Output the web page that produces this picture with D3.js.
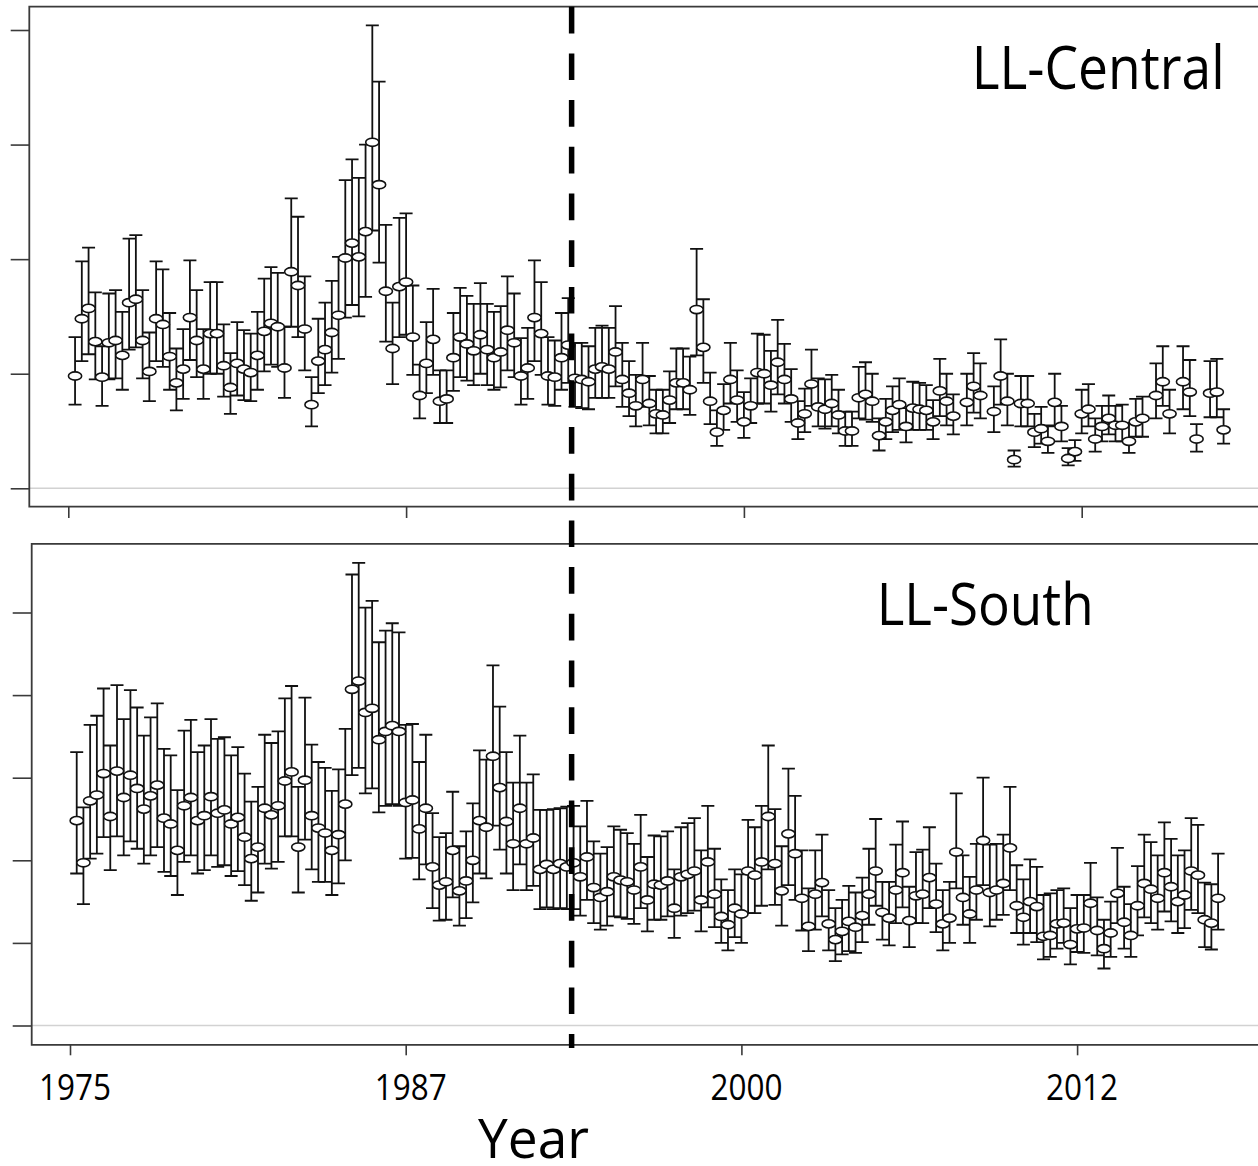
<!DOCTYPE html>
<html><head><meta charset="utf-8">
<script src="https://cdn.jsdelivr.net/npm/d3@7"></script>
<style>body{margin:0;background:#fff}svg{display:block}</style>
</head><body>
<svg id="c" width="1258" height="1166"></svg>
<script>
// quarter index (1 = 1975 Q1 ... 171)
const quarters = d3.range(1, 172);
const quarterTicks = [0, 50, 100, 150];
const yearLabels = ["1975", "1987", "2000", "2012"];
const breakQuarter = 74.5;
const panelTitles = ["LL-Central", "LL-South"];
const centralTicks = [0, 10, 20, 30, 40];
const southTicks = [0, 10, 20, 30, 40, 50];

const centralMean = [9.8,14.8,15.7,12.8,9.7,12.7,12.9,11.6,16.2,16.5,
12.9,10.2,14.8,14.3,11.5,9.2,10.4,14.9,12.9,10.4,
13.5,13.5,10.7,8.8,10.9,10.4,10.1,11.6,13.7,14.4,
14.1,10.5,18.9,17.7,13.9,7.3,11.1,12.1,13.6,15.1,
20.1,21.4,20.2,22.4,30.2,26.5,17.2,12.2,17.6,18.0,
13.2,8.1,10.9,13.0,7.6,7.8,11.4,13.2,12.6,12.0,
13.4,12.1,11.4,11.9,13.8,12.7,9.8,10.5,14.9,13.5,
9.8,9.7,11.4,12.5,9.6,9.5,9.3,10.4,10.6,10.4,
11.9,9.5,8.3,7.2,9.5,7.4,6.5,6.4,7.7,9.2,
9.2,8.6,15.6,12.3,7.6,4.9,6.8,9.5,7.7,5.8,
7.2,10.1,10.0,9.0,11.0,9.5,7.8,5.7,6.5,9.1,
7.1,6.9,7.4,6.4,5.0,5.0,7.9,8.2,7.6,4.6,
5.8,6.8,7.3,5.4,7.0,6.9,6.8,5.8,8.5,7.6,
6.3,null,7.5,8.9,8.1,null,6.7,9.8,7.6,2.5,
7.4,7.4,4.9,5.2,4.1,7.5,5.4,2.6,3.2,6.5,
6.9,4.3,5.4,6.1,5.5,5.5,4.1,5.8,6.1,null,
8.1,9.3,6.5,null,9.3,8.4,4.3,null,8.3,8.4,
5.1];
const centralUpper = [13.2,19.8,21.0,17.1,12.4,17.0,17.3,15.4,21.8,22.1,
17.3,13.6,19.8,19.1,15.3,12.2,13.9,19.9,17.3,13.9,
18.0,18.0,14.3,11.8,14.5,13.8,13.5,15.4,18.3,19.3,
18.8,14.1,25.3,23.7,18.5,9.7,14.8,16.2,18.1,20.2,
26.9,28.7,27.1,30.0,40.4,35.5,23.0,16.2,23.6,24.0,
17.7,10.8,14.5,17.4,10.3,10.3,15.3,17.5,16.8,16.1,
17.9,16.1,15.4,15.9,18.5,17.0,13.1,14.0,19.9,18.0,
13.2,12.9,15.3,16.6,12.7,12.7,12.4,14.0,14.2,14.0,
15.9,12.7,11.1,9.9,12.7,9.8,8.6,8.6,10.2,12.2,
12.2,11.5,20.9,16.5,10.1,6.8,9.1,12.7,10.3,8.4,
9.6,13.5,13.4,12.0,14.7,12.6,10.4,7.6,8.7,12.1,
9.6,9.5,9.9,8.6,6.7,6.7,10.6,11.0,10.0,6.1,
7.8,8.9,9.6,7.0,9.3,9.2,9.0,7.7,11.3,10.0,
8.2,null,10.0,11.8,10.9,null,8.9,13.0,10.0,3.3,
9.8,9.8,6.5,7.1,5.5,10.0,7.2,3.5,4.2,8.6,
9.1,6.1,7.2,8.1,7.2,7.3,5.7,7.8,8.0,null,
10.9,12.4,8.6,null,12.4,11.2,5.6,null,11.1,11.3,
6.9];
const centralLower = [7.3,11.1,11.7,9.5,7.2,9.5,9.6,8.6,12.1,12.3,
9.6,7.6,11.1,10.6,8.6,6.8,7.8,11.2,9.7,7.8,
10.0,10.0,8.0,6.5,8.1,7.7,7.6,8.6,10.2,10.8,
10.6,7.9,14.1,13.2,10.3,5.4,8.3,9.0,10.1,11.3,
14.9,16.0,15.0,16.7,22.5,19.7,12.8,9.1,13.2,13.4,
9.9,6.1,8.3,9.9,5.7,5.7,8.5,9.7,9.4,9.0,
10.0,9.0,8.6,8.8,10.3,9.7,7.3,7.8,11.1,9.9,
7.3,7.2,8.6,9.2,7.1,7.0,6.9,7.9,7.9,7.9,
8.9,7.1,6.3,5.4,7.1,5.5,4.8,4.8,5.7,6.9,
6.9,6.4,11.6,9.2,5.6,3.7,5.1,7.4,5.8,4.4,
5.7,7.4,7.4,6.7,8.2,7.4,5.8,4.3,4.9,7.2,
5.4,5.2,5.4,4.8,3.7,3.7,6.1,6.0,5.8,3.3,
4.3,4.9,5.1,4.0,5.1,5.1,5.1,4.3,6.3,5.5,
4.7,null,5.5,6.6,6.1,null,4.9,7.3,5.5,1.9,
5.4,5.4,3.6,3.9,3.1,5.4,4.1,2.0,2.4,4.8,
5.4,3.2,4.1,4.7,4.1,4.1,3.1,4.5,4.5,null,
6.1,7.2,4.8,null,6.9,6.3,3.2,null,6.2,6.2,
3.9];

const southMean = [24.8,19.7,27.2,27.9,30.5,25.3,30.8,27.6,30.3,28.7,
26.2,27.8,29.1,25.1,24.4,21.2,26.6,27.6,24.8,25.4,
27.7,25.7,26.1,24.4,25.2,22.8,20.2,21.6,26.3,25.5,
26.6,29.6,30.7,21.6,29.7,25.4,23.9,23.3,21.2,23.1,
26.8,40.7,41.7,37.9,38.4,34.6,35.6,36.3,35.6,27.0,
27.3,23.8,26.3,19.2,17.0,17.4,21.2,16.3,17.5,20.0,
24.8,24.0,32.6,28.8,24.7,22.0,26.3,22.0,22.7,18.9,
19.5,18.9,19.6,19.2,19.7,18.0,20.4,16.7,15.5,16.2,
18.0,17.6,17.4,16.4,19.2,15.2,17.1,17.0,17.5,14.2,
18.0,18.3,18.7,15.2,19.8,15.9,13.2,12.2,14.2,13.5,
18.7,18.2,19.8,25.3,19.6,16.3,23.2,20.8,15.4,12.0,
15.9,17.3,12.3,10.4,11.4,12.6,11.9,13.3,15.9,18.7,
13.7,13.0,16.4,18.5,12.7,15.7,15.9,17.9,14.7,12.3,
13.0,21.0,15.5,13.5,16.4,22.4,16.1,16.4,17.2,21.5,
14.5,13.1,15.0,14.4,10.8,10.9,12.3,12.4,9.8,11.7,
11.8,14.8,11.5,9.3,11.2,16.0,12.5,10.9,14.5,17.2,
16.5,15.4,18.5,16.8,15.0,15.8,18.7,18.2,12.8,12.4,
15.4];
const southUpper = [33.1,26.4,36.4,37.5,40.8,33.9,41.2,37.1,40.6,38.5,
35.1,37.3,39.0,33.5,32.7,28.5,35.7,37.0,33.1,33.9,
37.1,34.7,34.9,32.7,33.7,30.5,27.1,28.9,35.2,34.2,
35.6,39.6,41.1,28.9,39.7,34.0,31.9,31.2,28.4,31.0,
35.9,54.6,56.0,50.6,51.4,46.4,47.8,48.7,47.6,36.4,
36.5,31.9,35.2,25.7,22.8,23.3,28.3,21.7,23.5,26.9,
33.3,32.2,43.6,38.6,33.1,29.4,35.1,29.4,30.4,26.1,
26.1,26.2,26.3,26.5,26.6,24.1,27.2,22.3,20.8,21.6,
24.1,23.7,23.3,22.0,25.5,20.4,23.0,22.9,23.5,18.9,
24.0,24.5,25.1,21.2,26.6,21.4,17.7,16.4,18.9,18.3,
24.9,24.0,26.6,33.9,26.2,21.7,31.1,27.8,21.2,16.6,
21.2,23.1,16.4,14.2,15.2,16.9,16.1,17.9,21.4,25.0,
17.4,17.4,21.9,24.7,16.8,21.0,21.3,24.0,19.6,16.4,
17.4,28.1,20.6,18.0,22.0,30.0,21.9,22.0,23.1,28.9,
19.4,17.7,20.1,19.2,15.8,16.0,16.4,16.6,14.2,15.8,
15.8,19.7,15.5,12.8,15.0,21.5,16.8,14.7,19.3,23.1,
22.2,20.6,24.6,22.6,20.6,21.2,25.1,24.3,17.3,17.1,
20.8];
const southLower = [18.4,14.7,20.2,20.8,22.8,18.8,22.9,20.6,22.3,21.4,
19.6,20.6,21.6,18.6,18.1,15.8,19.8,20.6,18.4,18.8,
20.6,19.2,19.4,18.1,18.7,17.0,15.1,16.1,19.6,19.0,
19.8,22.9,22.9,16.1,22.5,18.9,17.4,17.4,15.8,17.2,
20.0,30.3,31.2,28.1,28.7,25.8,26.6,26.8,26.6,20.2,
20.3,17.7,19.5,14.2,12.7,12.8,15.5,12.1,13.0,14.9,
18.4,17.8,24.2,21.3,18.4,16.4,19.5,16.4,16.9,14.1,
14.3,14.1,14.2,14.1,14.1,13.3,15.2,12.4,11.6,12.1,
13.2,13.1,12.9,12.3,14.2,11.4,12.8,12.8,13.2,10.6,
13.3,13.6,13.9,11.4,14.3,11.9,10.0,9.1,10.7,10.0,
13.6,13.6,14.5,18.9,14.6,12.1,17.0,15.2,11.5,9.0,
11.6,13.2,9.1,7.8,8.6,9.0,8.8,10.1,12.2,14.5,
10.4,9.7,12.4,14.3,9.5,12.4,12.4,14.2,11.3,9.1,
10.0,16.6,12.2,10.0,12.8,17.0,12.0,12.8,13.4,16.4,
11.2,9.8,11.2,10.1,8.0,8.3,9.3,10.0,7.4,8.9,
8.8,11.6,8.5,6.9,8.3,12.4,9.3,8.3,10.9,13.1,
12.4,11.6,13.8,12.6,11.2,11.8,14.0,13.6,9.5,9.2,
11.6];

const svg = d3.select("#c");
const FONT = "'Open Sans', 'DejaVu Sans', sans-serif";
const AX = "#3a3a3a";

function drawPanel(cfg) {
  const g = svg.append("g");
  const x = d3.scaleLinear().domain([0, 150]).range(cfg.xRange);
  const y = d3.scaleLinear().domain(cfg.yDomain).range(cfg.yRange);

  // zero reference line
  g.append("line")
    .attr("x1", cfg.left).attr("x2", 1258)
    .attr("y1", y(0)).attr("y2", y(0))
    .attr("stroke", "#d2d2d2").attr("stroke-width", 1.6);

  // frame (open on the right, cut by the page edge)
  g.append("path")
    .attr("d", `M1300,${cfg.top}H${cfg.left}V${cfg.bottom}H1300`)
    .attr("fill", "none").attr("stroke", AX).attr("stroke-width", 1.8);

  // y axis ticks (no labels)
  const ya = g.append("g").attr("transform", `translate(${cfg.left},0)`)
    .call(d3.axisLeft(y).tickValues(cfg.yTicks).tickSize(cfg.yTickLen).tickFormat(""));
  ya.select(".domain").remove();
  ya.selectAll("line").attr("stroke", AX).attr("stroke-width", 1.6);

  // x axis ticks
  const xa = g.append("g").attr("transform", `translate(0,${cfg.bottom})`)
    .call(d3.axisBottom(x).tickValues(quarterTicks).tickSize(cfg.xTickLen).tickFormat(""));
  xa.select(".domain").remove();
  xa.selectAll("line").attr("stroke", AX).attr("stroke-width", 1.6);

  const data = quarters.map((q, i) => ({q, m: cfg.mean[i], u: cfg.upper[i], l: cfg.lower[i]}))
    .filter(d => d.m != null);
  const cap = 6.5;

  g.append("g").selectAll("path").data(data).join("path")
    .attr("d", d => {
      const cx = x(d.q), yu = y(d.u), yl = y(d.l);
      return `M${cx - cap},${yu}H${cx + cap}M${cx},${yu}V${yl}M${cx - cap},${yl}H${cx + cap}`;
    })
    .attr("fill", "none").attr("stroke", "#111").attr("stroke-width", 1.8);

  g.append("g").selectAll("ellipse").data(data).join("ellipse")
    .attr("cx", d => x(d.q)).attr("cy", d => y(d.m))
    .attr("rx", 6.6).attr("ry", 4.1)
    .attr("fill", "#fff").attr("stroke", "#111").attr("stroke-width", 1.6);

  g.append("text")
    .attr("x", cfg.titleX).attr("y", cfg.titleY)
    .attr("font-family", FONT).attr("font-size", cfg.titleSize)
    .attr("textLength", cfg.titleLen).attr("lengthAdjust", "spacingAndGlyphs")
    .attr("fill", "#000").text(cfg.title);

  return {x, y, g};
}

const topPanel = drawPanel({
  left: 29.3, top: 6.7, bottom: 506.7,
  xRange: [68.3, 1081.7], yDomain: [0, 40], yRange: [488.3, 30],
  yTicks: centralTicks, yTickLen: 18.6, xTickLen: 11.3,
  mean: centralMean, upper: centralUpper, lower: centralLower,
  title: panelTitles[0], titleX: 971.7, titleY: 89.3, titleSize: 60, titleLen: 253
});

const bottomPanel = drawPanel({
  left: 31.7, top: 543.8, bottom: 1044.8,
  xRange: [70, 1077.1], yDomain: [0, 50], yRange: [1025.5, 612.5],
  yTicks: southTicks, yTickLen: 19, xTickLen: 10.5,
  mean: southMean, upper: southUpper, lower: southLower,
  title: panelTitles[1], titleX: 876.7, titleY: 624.7, titleSize: 58, titleLen: 217
});

// year labels under the bottom panel
svg.append("g").selectAll("text").data(quarterTicks).join("text")
  .attr("x", (d) => bottomPanel.x(d) + 5).attr("y", 1100)
  .attr("text-anchor", "middle")
  .attr("font-family", FONT).attr("font-size", 37)
  .attr("textLength", 72).attr("lengthAdjust", "spacingAndGlyphs")
  .attr("fill", "#000")
  .text((d, i) => yearLabels[i]);

svg.append("text")
  .attr("x", 478).attr("y", 1158)
  .attr("font-family", FONT).attr("font-size", 55)
  .attr("textLength", 111).attr("lengthAdjust", "spacingAndGlyphs")
  .attr("fill", "#000").text("Year");

// break line across both panels
const bx = topPanel.x(breakQuarter);
svg.append("line")
  .attr("x1", bx).attr("x2", bx).attr("y1", 6.7).attr("y2", 1048)
  .attr("stroke", "#000").attr("stroke-width", 5.5)
  .attr("stroke-dasharray", "26.7 20");
</script>
</body></html>
